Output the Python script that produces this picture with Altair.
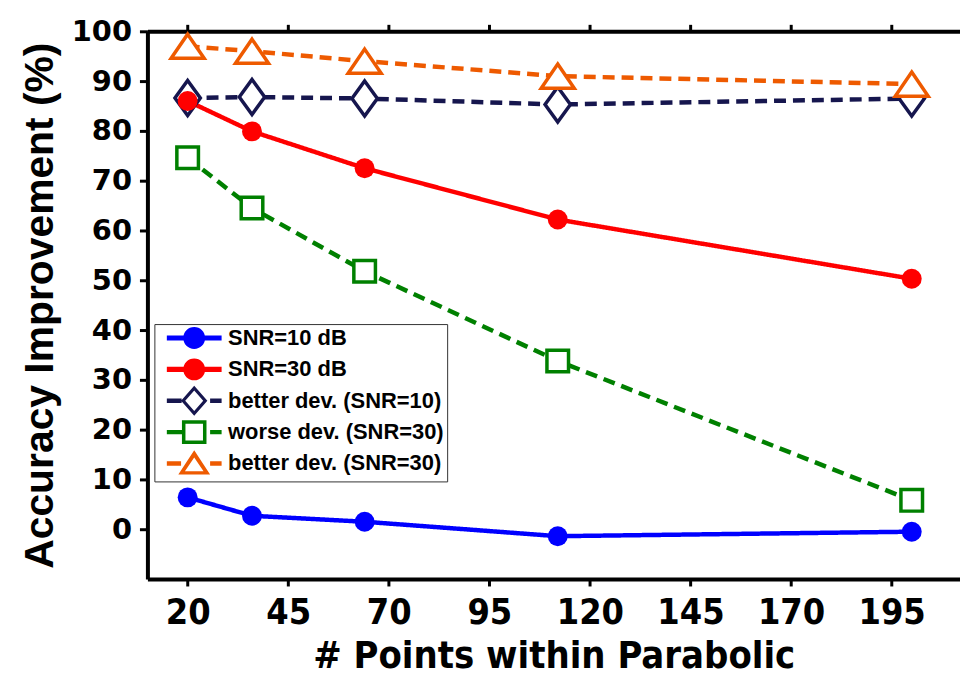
import altair as alt
import pandas as pd

# ---- data ----
x_points = [20, 36, 64, 112, 200]
series_names = ["SNR=10 dB", "SNR=30 dB", "better dev. (SNR=10)",
                "worse dev. (SNR=30)", "better dev. (SNR=30)"]
snr10 = [6.4, 2.7, 1.5, -1.4, -0.5]
snr30 = [86.0, 79.9, 72.5, 62.2, 50.3]
better10 = [86.6, 86.8, 86.5, 85.3, 86.5]
worse30 = [74.6, 64.5, 51.8, 33.8, 5.8]
better30 = [97.0, 96.0, 94.0, 91.0, 89.4]
x_ticks = [20, 45, 70, 95, 120, 145, 170, 195]
y_ticks = [0, 10, 20, 30, 40, 50, 60, 70, 80, 90, 100]

colors = ["#0000FF", "#FF0000", "#16164E", "#008000", "#EE5A00"]
dashes = [[1, 0], [1, 0], [12, 7], [12, 7], [12, 7]]

rows = []
for name, vals in zip(series_names, [snr10, snr30, better10, worse30, better30]):
    for xv, yv in zip(x_points, vals):
        rows.append({"series": name, "x": xv, "y": yv})
df = pd.DataFrame(rows)

filled_names = series_names[:2]
open_names = series_names[2:]

xscale = alt.Scale(domain=[10, 212], nice=False, zero=False)
yscale = alt.Scale(domain=[-10, 100], nice=False, zero=False)
cscale = alt.Scale(domain=series_names, range=colors)

NARROW = "Liberation Sans Narrow, DejaVu Sans Condensed, Liberation Sans"

bottom_axis = alt.Axis(values=x_ticks, orient="bottom", title="# Points within Parabolic",
                       labelFont=NARROW, labelFontWeight="bold", labelFontSize=36,
                       labelColor="black", labelPadding=10, tickSize=7, tickWidth=3,
                       tickColor="black", domainWidth=4, domainColor="black", grid=False,
                       titleFont=NARROW, titleFontWeight="bold", titleFontSize=38,
                       titleColor="black", titlePadding=7)
top_axis = alt.Axis(values=x_ticks, orient="top", labels=False, title=None,
                    tickSize=7, tickWidth=3, tickColor="black",
                    domainWidth=4, domainColor="black", grid=False)
left_axis = alt.Axis(values=y_ticks, orient="left", title="Accuracy Improvement (%)",
                     labelFont="DejaVu Sans", labelFontWeight="bold", labelFontSize=29,
                     labelColor="black", labelPadding=8, tickSize=8, tickWidth=3,
                     tickColor="black", domainWidth=4, domainColor="black", grid=False,
                     titleFont="Liberation Sans", titleFontWeight="bold", titleFontSize=41,
                     titleColor="black", titlePadding=10)

Y_left = alt.Y("y:Q", scale=yscale, axis=left_axis)

base = alt.Chart(df)

lines = base.mark_line(strokeWidth=4.5).encode(
    x=alt.X("x:Q", scale=xscale, axis=bottom_axis),
    y=Y_left,
    color=alt.Color("series:N", scale=cscale, legend=None),
    strokeDash=alt.StrokeDash("series:N", scale=alt.Scale(domain=series_names, range=dashes),
                              legend=None),
    detail="series:N",
    order="x:Q",
)

marker_paths = {
    "better dev. (SNR=10)": "M0,-1.375L1,0L0,1.375L-1,0Z",
    "worse dev. (SNR=30)": "M-0.85,-0.85H0.85V0.85H-0.85Z",
    "better dev. (SNR=30)": "M0,-0.95L1.3,0.95L-1.3,0.95Z",
}
open_markers = base.transform_filter(
    alt.FieldOneOfPredicate(field="series", oneOf=open_names)
).mark_point(filled=False, fill="white", fillOpacity=1, strokeWidth=3.5, size=650,
             opacity=1).encode(
    x=alt.X("x:Q", scale=xscale, axis=top_axis),
    y=Y_left,
    color=alt.Color("series:N", scale=cscale, legend=None),
    shape=alt.Shape("series:N", scale=alt.Scale(domain=open_names,
                                                range=[marker_paths[n] for n in open_names]),
                    legend=None),
)

circles = base.transform_filter(
    alt.FieldOneOfPredicate(field="series", oneOf=filled_names)
).mark_point(filled=True, shape="circle", size=400, opacity=1).encode(
    x=alt.X("x:Q", scale=xscale, axis=None),
    y=Y_left,
    color=alt.Color("series:N", scale=cscale, legend=None),
)

EXT = " M0,-1.36L0,-1.36 M0,1.36L0,1.36"
legend_paths = [
    "M-2.5,-0.23H2.5V0.23H-2.5Z M1,0A1,1 0 1,1 -1,0A1,1 0 1,1 1,0Z" + EXT,
    "M-2.5,-0.23H2.5V0.23H-2.5Z M1,0A1,1 0 1,1 -1,0A1,1 0 1,1 1,0Z" + EXT,
    "M-2.5,-0.2H-1.15V0.2H-2.5Z M1.45,-0.2H2.5V0.2H1.45Z "
    "M0,-1.36L1.2,0L0,1.36L-1.2,0Z M0,-0.93L-0.82,0L0,0.93L0.82,0Z" + EXT,
    "M-2.5,-0.2H-1.1V0.2H-2.5Z M1.45,-0.2H2.5V0.2H1.45Z "
    "M-1.12,-1.08H1.12V1.08H-1.12Z M-0.8,-0.76V0.76H0.8V-0.76Z" + EXT,
    "M-2.5,-0.2H-1.2V0.2H-2.5Z M1.45,-0.2H2.5V0.2H1.45Z "
    "M0,-1.2L1.45,1.0L-1.45,1.0Z M0,-0.55L-0.85,0.7L0.85,0.7Z" + EXT,
]

legend_spec = alt.Legend(
    title=None, orient="none", legendX=7, legendY=294,
    labelFont="Liberation Sans", labelFontWeight="bold", labelFontSize=22,
    labelColor="black", labelLimit=400, labelExpr="datum.label + '\u00a0\u00a0'",
    symbolSize=484, symbolStrokeWidth=0, symbolOpacity=1,
    symbolOffset=26, labelOffset=23, rowPadding=1.5, padding=3,
    strokeColor="#333333", fillColor="white",
)

legend_layer = base.transform_filter(alt.datum.x == x_points[0]).mark_point(
    filled=True, opacity=0
).encode(
    x=alt.X("x:Q", scale=xscale, axis=None),
    y=Y_left,
    color=alt.Color("series:N", scale=cscale, legend=legend_spec),
    shape=alt.Shape("series:N", scale=alt.Scale(domain=series_names, range=legend_paths),
                    legend=legend_spec),
)

chart = alt.layer(lines, open_markers, circles, legend_layer).resolve_scale(
    shape="independent"
).resolve_legend(
    color="independent", shape="independent"
).properties(
    width=816, height=550,
    autosize=alt.AutoSizeParams(type="none"),
    padding={"left": 140, "top": 22, "right": 0, "bottom": 97},
).configure_view(stroke=None).configure(background="white")

chart.save("out.html", embed_options={"renderer": "svg", "actions": False})
